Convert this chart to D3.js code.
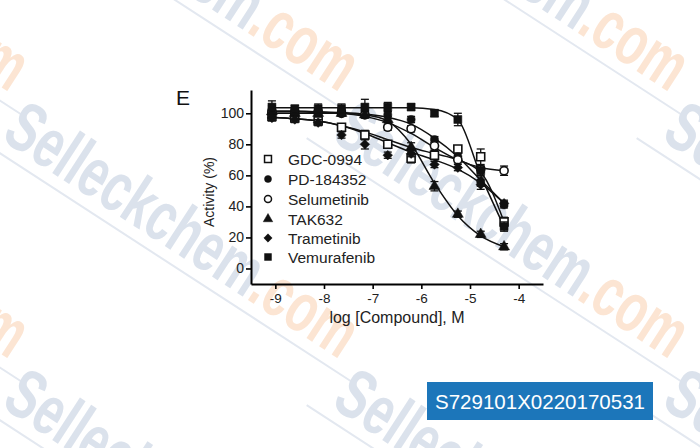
<!DOCTYPE html>
<html><head><meta charset="utf-8">
<script src="https://cdn.jsdelivr.net/npm/d3@7"></script>
<style>
html,body{margin:0;padding:0;background:#fff;}
svg{display:block;}
text{font-family:"Liberation Sans",Arial,sans-serif;}
</style></head>
<body>
<svg id="c" width="700" height="448"></svg>
<script>
// ---- data ----
const logConc = [-9.07,-8.60,-8.12,-7.64,-7.16,-6.69,-6.21,-5.73,-5.25,-4.78,-4.30];
const seriesNames = ["GDC-0994","PD-184352","Selumetinib","TAK632","Trametinib","Vemurafenib"];
const gdcVals  = [98, 97, 95, 91, 86, 80, 71, 73, 77, 72, 30];
const pdVals   = [102, 101, 101, 101, 100, 99, 96, 83, 72, 56, 41];
const selVals  = [101, 101, 101, 100, 99, 91, 90, 79, 70, 64, 63];
const takVals  = [101, 100, 100, 100, 99, 96, 78, 53, 35, 22, 14];
const tramVals = [97, 96, 94, 86, 80, 73, 74, 67, 65, 54, 42];
const vemVals  = [104, 103, 103, 103, 104, 104, 104, 100, 96, 63, 27];
const gdcErr  = [2, 2, 2, 2, 3, 2, 3, 3, 2, 5, 3];
const pdErr   = [3, 2, 2, 2, 2, 2, 2, 2, 2, 3, 2];
const selErr  = [2, 2, 2, 2, 2, 2, 2, 2, 2, 2, 3];
const takErr  = [3, 2, 2, 2, 2, 2, 3, 3, 2, 2, 2];
const tramErr = [2, 2, 2, 2, 3, 2, 2, 2, 2, 3, 2];
const vemErr  = [4, 2, 3, 3, 5, 3, 2, 2, 4, 3, 3];
// fitted curves at the same concentrations
const gdcFit  = [97.5, 96.5, 95, 92, 88, 83, 78, 74, 70, 62, 30];
const pdFit   = [101.5, 101.5, 101, 100.5, 99.5, 97.5, 93, 84, 72, 57, 42];
const selFit  = [101, 101, 100.5, 100, 98, 94, 87, 78, 70, 65, 63];
const takFit  = [100, 100, 100, 100, 99, 95, 80, 55, 34, 21, 14];
const tramFit = [97.5, 96.5, 95, 92, 87, 81, 75, 70, 64, 55, 42];
const vemFit  = [103.5, 103.5, 103.5, 103.5, 103.5, 103.5, 103.5, 102.5, 96, 60, 27];
const xTicks = [-9, -8, -7, -6, -5, -4];
const yTicks = [0, 20, 40, 60, 80, 100];
const badgeText = "S729101X0220170531";
const panelLabel = "E";
const wmMain = "Selleckchem";
const wmTail = ".com";

const svg = d3.select("#c");

// ---- watermark ----
const wm = svg.append("g");
for (let i = -1; i <= 2; i++) for (let j = -1; j <= 1; j++) {
  const sx = i * 330, sy = 139 + j * 267;
  const g = wm.append("g").attr("transform", `translate(${sx},${sy}) rotate(33)`);
  g.append("line").attr("x1", -20).attr("x2", 430).attr("y1", 12).attr("y2", 12)
    .attr("stroke", "#e3e8f0").attr("stroke-width", 2);
  const t = g.append("text").attr("x", 0).attr("y", 0)
    .attr("font-family", "'Liberation Sans Narrow','Liberation Sans',sans-serif")
    .attr("font-weight", "bold").attr("font-size", 70)
    .attr("textLength", 405).attr("lengthAdjust", "spacingAndGlyphs");
  t.append("tspan").attr("fill", "#dbe2ec").text(wmMain);
  t.append("tspan").attr("fill", "#fce5d3").text(wmTail);
}

// ---- scales ----
const x = d3.scaleLinear().domain([-9.5, -3.5]).range([251, 543]);
const y = d3.scaleLinear().domain([-10, 115]).range([284, 90]);

const series = [
  {name: seriesNames[0], vals: gdcVals,  err: gdcErr,  fit: gdcFit,  shape: "square",   open: true},
  {name: seriesNames[1], vals: pdVals,   err: pdErr,   fit: pdFit,   shape: "circle",   open: false},
  {name: seriesNames[2], vals: selVals,  err: selErr,  fit: selFit,  shape: "circle",   open: true},
  {name: seriesNames[3], vals: takVals,  err: takErr,  fit: takFit,  shape: "triangle", open: false},
  {name: seriesNames[4], vals: tramVals, err: tramErr, fit: tramFit, shape: "diamond",  open: false},
  {name: seriesNames[5], vals: vemVals,  err: vemErr,  fit: vemFit,  shape: "square",   open: false}
];

function symPath(shape, s) {
  if (shape === "square") return d3.symbol(d3.symbolSquare, 64 * s)();
  if (shape === "circle") return d3.symbol(d3.symbolCircle, 52 * s)();
  if (shape === "triangle") return d3.symbol(d3.symbolTriangle, 52 * s)();
  if (shape === "diamond") return d3.symbol(d3.symbolSquare, 46 * s)();
}
function symRot(shape) { return shape === "diamond" ? " rotate(45)" : ""; }

// ---- axes ----
const plot = svg.append("g");
const yAxis = plot.append("g").attr("transform", "translate(251,0)")
  .call(d3.axisLeft(y).tickValues(yTicks).tickSize(5).tickSizeOuter(0).tickPadding(2).tickFormat(d => String(d)));
yAxis.select(".domain").attr("stroke-width", 2);
yAxis.selectAll(".tick line").attr("stroke-width", 1.6);
yAxis.selectAll("text").attr("font-size", 14).attr("fill", "#222")
  .attr("font-family", "'Liberation Sans',Arial,sans-serif");

const xAxis = plot.append("g").attr("transform", "translate(0,284)")
  .call(d3.axisBottom(x).tickValues(xTicks).tickSize(5).tickSizeOuter(0).tickPadding(4).tickFormat(d => String(d)));
xAxis.select(".domain").attr("stroke-width", 2);
xAxis.selectAll(".tick line").attr("stroke-width", 1.6);
xAxis.selectAll("text").attr("font-size", 13.5).attr("fill", "#222")
  .attr("font-family", "'Liberation Sans',Arial,sans-serif");

// labels
svg.append("text").attr("x", 176).attr("y", 105).attr("font-size", 21).attr("fill", "#111").text(panelLabel);
svg.append("text").attr("transform", "translate(214,192) rotate(-90)").attr("text-anchor", "middle")
  .attr("font-size", 14).attr("fill", "#222").text("Activity (%)");
svg.append("text").attr("x", 397).attr("y", 323).attr("text-anchor", "middle")
  .attr("font-size", 16).attr("fill", "#222").text("log [Compound], M");

// ---- fit curves ----
const line = d3.line().x((d, i) => x(logConc[i])).y(d => y(d)).curve(d3.curveMonotoneX);
series.forEach(s => {
  plot.append("path").attr("d", line(s.fit)).attr("fill", "none")
    .attr("stroke", "#111").attr("stroke-width", 1.5);
});

// ---- error bars + markers ----
series.forEach(s => {
  const g = plot.append("g");
  s.vals.forEach((v, i) => {
    const cx = x(logConc[i]);
    const e = s.err[i];
    g.append("line").attr("x1", cx).attr("x2", cx).attr("y1", y(v - e)).attr("y2", y(v + e))
      .attr("stroke", "#111").attr("stroke-width", 1.3);
    [v - e, v + e].forEach(b => g.append("line").attr("x1", cx - 4).attr("x2", cx + 4)
      .attr("y1", y(b)).attr("y2", y(b)).attr("stroke", "#111").attr("stroke-width", 1.3));
    g.append("path").attr("d", symPath(s.shape, 1))
      .attr("transform", `translate(${cx},${y(v)})` + symRot(s.shape))
      .attr("fill", s.open ? "#fff" : "#111").attr("stroke", "#111")
      .attr("stroke-width", s.open ? 1.6 : 0.5);
  });
});

// ---- legend ----
const legY = [159, 179, 199, 219, 238, 257];
series.forEach((s, i) => {
  svg.append("path").attr("d", symPath(s.shape, 0.75))
    .attr("transform", `translate(268,${legY[i]})` + symRot(s.shape))
    .attr("fill", s.open ? "#fff" : "#111").attr("stroke", "#111")
    .attr("stroke-width", s.open ? 1.5 : 0.5);
  svg.append("text").attr("x", 288).attr("y", legY[i] + 5.5).attr("font-size", 15.5)
    .attr("fill", "#222").text(s.name);
});

// ---- badge ----
svg.append("rect").attr("x", 427).attr("y", 382).attr("width", 226).attr("height", 38).attr("fill", "#1c76ba");
svg.append("text").attr("x", 540).attr("y", 409).attr("text-anchor", "middle").attr("font-size", 21)
  .attr("fill", "#fff").attr("textLength", 210).attr("lengthAdjust", "spacingAndGlyphs").text(badgeText);
</script>
</body></html>
